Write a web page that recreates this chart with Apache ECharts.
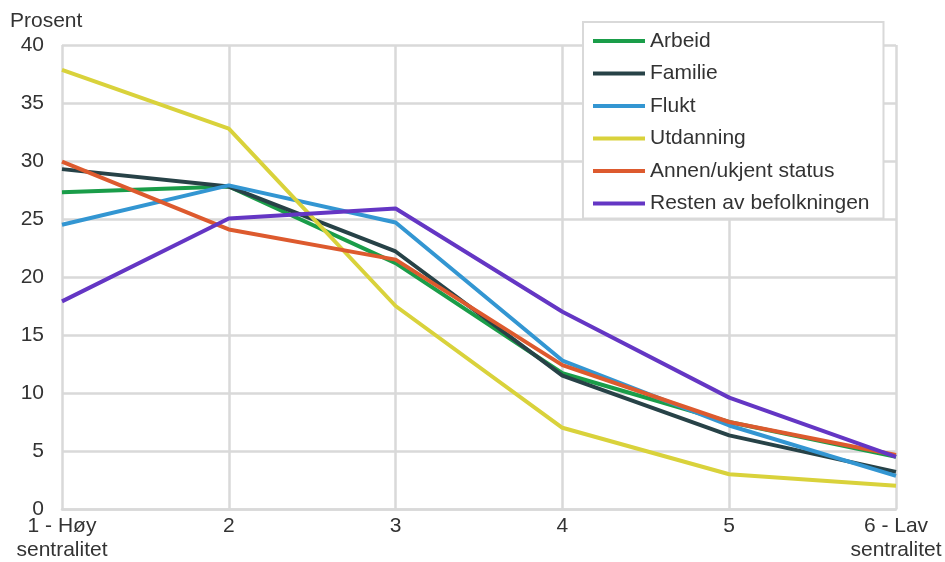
<!DOCTYPE html>
<html><head><meta charset="utf-8">
<script src="https://cdn.jsdelivr.net/npm/echarts@6/dist/echarts.min.js"></script>
<style>html,body{margin:0;padding:0;background:#fff}#c{width:945px;height:562px}</style>
</head><body><div id="c"></div>
<script>
const categories = ['1 - Høy\nsentralitet', '2', '3', '4', '5', '6 - Lav\nsentralitet'];
const arbeid = [27.3, 27.8, 21.2, 11.7, 7.5, 4.5];
const familie = [29.3, 27.8, 22.2, 11.5, 6.35, 3.2];
const flukt = [24.5, 27.9, 24.7, 12.8, 7.2, 2.85];
const utdanning = [37.85, 32.8, 17.5, 7.0, 3.0, 2.0];
const annen = [29.95, 24.1, 21.5, 12.4, 7.5, 4.65];
const resten = [17.9, 25.05, 25.9, 17.0, 9.6, 4.5];
const yTicks = [0, 5, 10, 15, 20, 25, 30, 35, 40];

const seriesDefs = [
  ['Arbeid', arbeid, '#1a9d49'],
  ['Familie', familie, '#274247'],
  ['Flukt', flukt, '#3396d2'],
  ['Utdanning', utdanning, '#d9d23b'],
  ['Annen/ukjent status', annen, '#dd5a2e'],
  ['Resten av befolkningen', resten, '#6436c4']
];

const chart = echarts.init(document.getElementById('c'), null, {renderer: 'canvas'});
const font = 'Liberation Sans, Arial, sans-serif';
chart.setOption({
  animation: false,
  textStyle: {fontFamily: font},
  grid: {left: 62, right: 49, top: 45, bottom: 51, containLabel: false},
  legend: {
    orient: 'vertical', left: 583, top: 22,
    backgroundColor: '#fff', borderColor: '#d9d9d9', borderWidth: 2,
    padding: [7, 14, 3, 10],
    icon: 'rect', itemWidth: 52, itemHeight: 4, itemGap: 8.5,
    textStyle: {fontSize: 21, color: '#333', lineHeight: 24, fontFamily: font},
    data: seriesDefs.map(s => s[0])
  },
  xAxis: {
    type: 'category', boundaryGap: false, data: categories,
    axisLine: {lineStyle: {color: '#d9d9d9', width: 2.5}},
    axisTick: {show: false},
    splitLine: {show: true, lineStyle: {color: '#d9d9d9', width: 2.5}},
    axisLabel: {fontSize: 21, color: '#333', margin: 5, lineHeight: 24, interval: 0, fontFamily: font}
  },
  yAxis: {
    type: 'value', min: 0, max: 40, interval: 5,
    name: 'Prosent', nameLocation: 'end', nameGap: 13,
    nameTextStyle: {fontSize: 21, color: '#333', align: 'left', padding: [0, 0, 0, -52], fontFamily: font},
    axisLine: {show: false}, axisTick: {show: false},
    splitLine: {lineStyle: {color: '#d9d9d9', width: 2.5}},
    axisLabel: {fontSize: 21, color: '#333', margin: 18, fontFamily: font,
      formatter: v => yTicks.includes(v) ? String(v) : ''}
  },
  series: seriesDefs.map(([name, data, color]) => ({
    name, type: 'line', data, symbol: 'none', smooth: false,
    lineStyle: {color, width: 4}, itemStyle: {color}
  }))
});
</script></body></html>
